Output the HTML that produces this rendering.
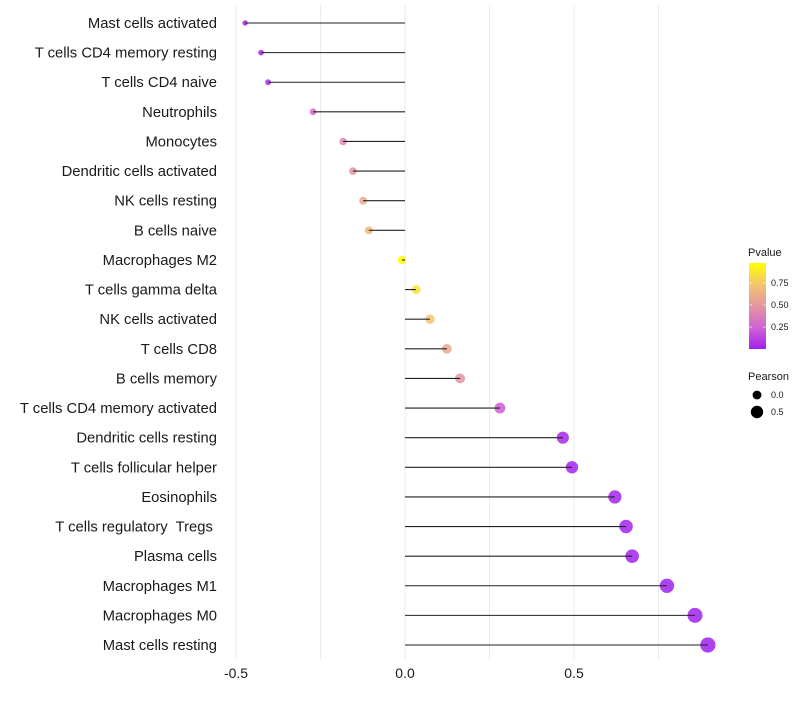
<!DOCTYPE html>
<html><head><meta charset="utf-8"><style>
body{margin:0;background:#fff}
svg text{font-family:"Liberation Sans",sans-serif;white-space:pre}
</style></head><body>
<svg id="chart" width="800" height="700"></svg>
<script>
const categories=["Mast cells activated","T cells CD4 memory resting","T cells CD4 naive","Neutrophils","Monocytes","Dendritic cells activated","NK cells resting","B cells naive","Macrophages M2","T cells gamma delta","NK cells activated","T cells CD8","B cells memory","T cells CD4 memory activated","Dendritic cells resting","T cells follicular helper","Eosinophils","T cells regulatory  Tregs ","Plasma cells","Macrophages M1","Macrophages M0","Mast cells resting"];
const pearson=[-0.473,-0.426,-0.405,-0.272,-0.183,-0.154,-0.124,-0.107,-0.009,0.033,0.074,0.124,0.163,0.281,0.467,0.494,0.621,0.654,0.672,0.775,0.858,0.896];
const pvalues=[0.02,0.05,0.06,0.3,0.42,0.5,0.6,0.68,0.97,0.88,0.75,0.6,0.5,0.22,0.03,0.02,0.01,0.01,0.01,0.005,0.003,0.002];
const xTicks=[-0.5,0.0,0.5];
const xTickLabels=["-0.5","0.0","0.5"];
const pTicks=[0.25,0.5,0.75];
const pTickLabels=["0.25","0.50","0.75"];
const sizeVals=[0.0,0.5];
const sizeLabels=["0.0","0.5"];

const NS="http://www.w3.org/2000/svg";
const svg=document.getElementById('chart');
function mk(t,a,p){const e=document.createElementNS(NS,t);for(const k in a)e.setAttribute(k,a[k]);(p||svg).appendChild(e);return e;}
const x=v=>405+v*338;
const y=i=>23+i*(622/21);
const r=v=>4.4+3.6*v;
const stops=[[0,[160,32,240]],[0.25,[208,100,210]],[0.5,[226,150,160]],[0.75,[244,196,110]],[1,[255,255,0]]];
function col(p){for(let i=1;i<stops.length;i++){if(p<=stops[i][0]){const a=stops[i-1],b=stops[i];const t=(p-a[0])/(b[0]-a[0]);const c=a[1].map((v,j)=>Math.round(v+(b[1][j]-v)*t));return `rgb(${c})`;}}return 'rgb(255,255,0)';}

[-0.5,-0.25,0,0.25,0.5,0.75].forEach(v=>{const g=mk('line',{x1:x(v),x2:x(v),y1:5,y2:660,stroke:'#ebebeb','stroke-width':1});

});
categories.forEach((c,i)=>{
  const t=mk('text',{x:217,y:y(i)+5,'text-anchor':'end','font-size':14.8,fill:'#1a1a1a'});t.textContent=c;
  
  
  const pt=mk('circle',{cx:x(pearson[i]),cy:y(i),r:r(pearson[i]),fill:col(pvalues[i]),'fill-opacity':0.85});
  
  
  const l=mk('line',{x1:x(0),x2:x(pearson[i]),y1:y(i),y2:y(i),stroke:'#222','stroke-width':1.1});
  
  
});
xTicks.forEach((v,i)=>{const t=mk('text',{x:x(v),y:678,'text-anchor':'middle','font-size':14,fill:'#1a1a1a'});t.textContent=xTickLabels[i];

});
const lt=mk('text',{x:748,y:256,'font-size':11,fill:'#1a1a1a'});lt.textContent='Pvalue';


const defs=mk('defs',{});const lg=mk('linearGradient',{id:'gr',x1:0,y1:1,x2:0,y2:0},defs);
stops.forEach(s=>mk('stop',{offset:s[0],'stop-color':`rgb(${s[1]})`},lg));
const bar=mk('rect',{x:749,y:263,width:17,height:86,fill:'url(#gr)'});


pTicks.forEach((p,i)=>{const yy=349-p*88;
  mk('line',{x1:749,x2:752,y1:yy,y2:yy,stroke:'#fff','stroke-opacity':0.6});mk('line',{x1:763,x2:766,y1:yy,y2:yy,stroke:'#fff','stroke-opacity':0.6});
  const t=mk('text',{x:771,y:yy+3,'font-size':9,fill:'#1a1a1a'});t.textContent=pTickLabels[i];
  
  });
const st=mk('text',{x:748,y:380,'font-size':11,fill:'#1a1a1a'});st.textContent='Pearson';


sizeVals.forEach((v,i)=>{const yy=395+i*17;
  const c=mk('circle',{cx:757,cy:yy,r:r(v),fill:'#000'});
  
  
  const t=mk('text',{x:771,y:yy+3,'font-size':9,fill:'#1a1a1a'});t.textContent=sizeLabels[i];
  
  });
</script>
</body></html>
